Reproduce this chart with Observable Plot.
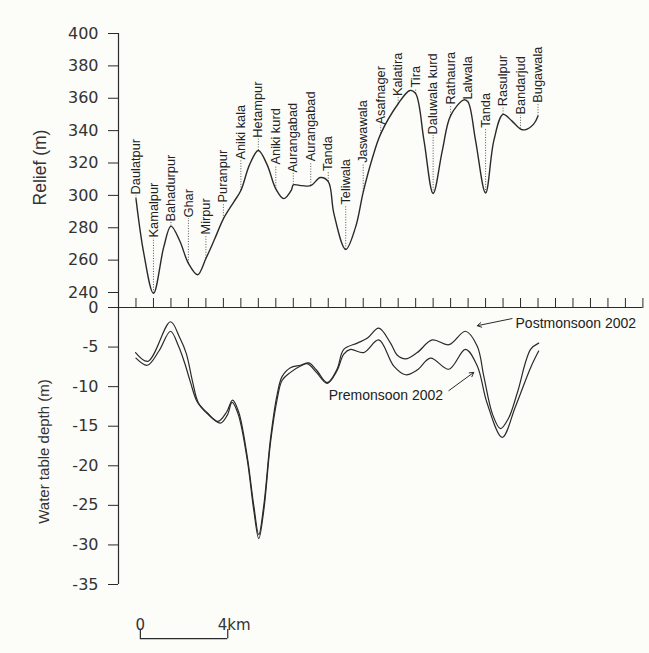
<!DOCTYPE html>
<html><head><meta charset="utf-8">
<script src="https://cdn.jsdelivr.net/npm/d3@7"></script>
<script src="https://cdn.jsdelivr.net/npm/@observablehq/plot@0.6"></script>
<style>
html,body{margin:0;padding:0;background:#fcfcf9;}
#chart{position:relative;width:649px;height:653px;overflow:hidden;}
#chart svg{position:absolute;left:0;}
</style></head><body><div id="chart"></div>
<script>
// ---- Relief profile (distance km, elevation m) ----
const reliefKm = [0.8,1.16,1.6,2.07,2.4,2.8,3.2,3.62,4.0,4.4,4.8,5.28,5.6,6.0,6.4,6.8,7.2,7.56,7.92,8.0,8.4,8.8,9.24,9.6,9.86,10.4,10.85,11.2,11.61,12.0,12.8,13.34,13.6,13.98,14.4,14.82,15.2,15.81,16.0,16.34,16.8,17.18,17.6,18.0,18.4,18.6,19.0,19.2];
const reliefM  = [298,264,239.5,268,281,272,258,251,261,273,285.5,296,303,319,327.7,319,304,298,303.5,306.5,306,306,311,308.5,288.6,266.6,280.4,302,322.6,338,356.6,364.8,362.8,334,301.2,327.7,349.3,359,357.6,334,301.4,334,350,346,341,340.5,344,349];

// ---- Villages along the profile ----
const villages  = ["Daulatpur","Kamalpur","Bahadurpur","Ghar","Mirpur","Puranpur","Aniki kala","Hetampur","Aniki kurd","Aurangabad","Aurangabad","Tanda","Teliwala","Jaswawala","Asafnager","Kalatira","Tira","Daluwala kurd","Rathaura","Lalwala","Tanda","Rasulpur","Bandarjud","Bugawala"];
const villageKm = [0.8,1.6,2.4,3.2,4.0,4.8,5.6,6.4,7.2,8.0,8.8,9.6,10.4,11.2,12.0,12.8,13.6,14.4,15.2,16.0,16.8,17.6,18.4,19.2];
const labelElev = [300,273.4,283.2,285.7,275.2,295,321.5,335,318.5,313.5,320.5,314.5,293.7,319.5,343.2,360.7,366,337,355.5,358.6,341.1,354.5,349.3,356.6];

// ---- Water table depth (m) ----
const postKm    = [0.78,1.35,2.38,2.8,3.1,3.4,3.65,4.06,4.55,4.95,5.22,5.5,5.89,6.19,6.42,6.65,6.96,7.26,7.49,7.87,8.33,8.71,9.06,9.55,10.0,10.31,10.93,11.38,11.91,12.45,12.75,13.14,13.67,14.36,15.12,15.88,16.42,16.72,17.12,17.48,17.85,18.25,18.86,19.23];
const postDepth = [-5.7,-6.8,-1.8,-3.8,-5.8,-9.5,-12.0,-13.3,-14.4,-13.2,-11.7,-13.2,-18.8,-25.0,-28.7,-25.0,-16.5,-11.0,-8.7,-7.6,-7.3,-7.0,-7.9,-9.5,-7.8,-5.3,-4.5,-3.9,-2.6,-4.5,-6.0,-6.5,-5.7,-4.1,-4.7,-3.0,-4.9,-8.7,-13.5,-15.3,-14.0,-10.8,-5.3,-4.5];
const preKm     = [0.8,1.32,1.85,2.38,2.75,3.05,3.3,3.6,4.06,4.67,4.98,5.2,5.48,5.89,6.19,6.42,6.65,6.96,7.26,7.49,7.87,8.33,8.64,9.06,9.55,10.0,10.31,10.62,11.22,11.91,12.6,13.14,13.67,14.28,15.12,15.88,16.42,16.87,17.56,18.17,18.86,19.23];
const preDepth  = [-6.4,-7.3,-5.5,-3.0,-4.9,-7.2,-9.5,-11.9,-13.4,-14.6,-13.6,-12.0,-13.5,-19.2,-25.6,-29.2,-25.6,-17.0,-11.6,-9.2,-8.2,-7.4,-7.1,-8.2,-9.6,-8.0,-5.9,-5.3,-5.7,-4.1,-7.4,-8.5,-7.9,-6.4,-7.8,-5.3,-7.4,-12.1,-16.4,-12.5,-7.6,-5.5];

// ---- Ticks ----
const reliefTicks = [240,260,280,300,320,340,360,380,400];
const depthTicks  = [0,-5,-10,-15,-20,-25,-30,-35];
const stationTicks = d3.range(1,31).map(i => +(i*0.8).toFixed(1));

// ---- Annotations ----
const annoText  = ["Postmonsoon 2002","Premonsoon 2002"];
const annoKm    = [18.17, 9.62];
const annoDepth = [-2.0, -11.1];
const arrowFrom = [[18.01,-1.4],[15.12,-10.5]];
const arrowTo   = [[16.42,-2.3],[16.26,-8.2]];

const relief = reliefKm.map((x,i)=>({x, y: reliefM[i]}));
const labels = villages.map((name,i)=>({name, x: villageKm[i], top: labelElev[i], foot: reliefM[reliefKm.indexOf(villageKm[i])]}));
const post = postKm.map((x,i)=>({x, y: postDepth[i]}));
const pre = preKm.map((x,i)=>({x, y: preDepth[i]}));
const annos = annoText.map((t,i)=>({t, x: annoKm[i], y: annoDepth[i]}));
const arrows = arrowFrom.map((f,i)=>({x1:f[0],y1:f[1],x2:arrowTo[i][0],y2:arrowTo[i][1]}));

const ink = "#2a2a2a";
const W = 649, ML = 118, MR = 6.6;
const baseStyle = {fontFamily:"DejaVu Sans", fontSize:"16px", background:"transparent", color: ink, overflow:"visible"};

// Top panel: 400 at y=33, 240 at y=292, frame extends to the zero line (y=307)
const pxPerM = 259/160;
const topPlot = Plot.plot({
  width: W, height: 307, marginLeft: ML, marginRight: MR, marginTop: 33, marginBottom: 0,
  x: {domain:[0,24], axis:null},
  y: {domain:[240 - 15/pxPerM, 400], axis:null},
  style: baseStyle,
  marks: [
    Plot.ruleX([0], {stroke: ink, strokeWidth: 1.2}),
    Plot.axisY(reliefTicks, {anchor:"left", tickSize:10, tickPadding:10, fontSize:16, fontFamily:"DejaVu Sans", label:null, fill: "#333"}),
    Plot.ruleX(labels, {x:"x", y1:"foot", y2:"top", stroke:"#444", strokeWidth:0.9, strokeDasharray:"1,1.6"}),
    Plot.line(relief, {x:"x", y:"y", curve:"catmull-rom", stroke: ink, strokeWidth:1.4}),
    Plot.text(labels, {x:"x", y:"top", text:"name", rotate:-90, textAnchor:"start", lineAnchor:"middle", dy:-1, fontFamily:"Liberation Sans", fontSize:12.8, fill:"#222"}),
    Plot.text(["Relief (m)"], {frameAnchor:"left", text:d=>d, rotate:-90, dx:-78, dy:-3, textAnchor:"middle", lineAnchor:"middle", fontFamily:"Liberation Sans", fontSize:17.5, fill:"#333"})
  ]
});
topPlot.style.top = "0px";

// Bottom panel: 0 at y=307, -35 at y=584
const botPlot = Plot.plot({
  width: W, height: 363, marginLeft: ML, marginRight: MR, marginTop: 17, marginBottom: 69,
  x: {domain:[0,24], axis:null},
  y: {domain:[-35, 0], axis:null},
  style: baseStyle,
  marks: [
    Plot.ruleX([0], {stroke: ink, strokeWidth: 1.2}),
    Plot.ruleY([0], {stroke: ink, strokeWidth: 1.2}),
    Plot.axisY(depthTicks, {anchor:"left", tickSize:10, tickPadding:10, tickFormat:d=>String(d), fontSize:16, fontFamily:"DejaVu Sans", label:null, fill:"#333"}),
    Plot.axisX(stationTicks, {anchor:"top", tickSize:10, tickFormat:()=>"", label:null}),
    Plot.line(post, {x:"x", y:"y", curve:"catmull-rom", stroke: ink, strokeWidth:1.2}),
    Plot.line(pre, {x:"x", y:"y", curve:"catmull-rom", stroke: ink, strokeWidth:1.2}),
    Plot.arrow(arrows, {x1:"x1", y1:"y1", x2:"x2", y2:"y2", stroke: ink, strokeWidth:1, headLength:7}),
    Plot.text(annos, {x:"x", y:"y", text:"t", textAnchor:"start", lineAnchor:"middle", fontFamily:"Liberation Sans", fontSize:14, fill:"#222"}),
    Plot.text(["Water table depth (m)"], {frameAnchor:"left", text:d=>d, rotate:-90, dx:-74, dy:5.5, textAnchor:"middle", lineAnchor:"middle", fontFamily:"Liberation Sans", fontSize:15, fill:"#333"}),
    // scale bar: 4 km
    Plot.ruleY([-41.85], {x1:1, x2:5, stroke: ink, strokeWidth:1.2}),
    Plot.ruleX([1,5], {y1:-41.85, y2:-40.7, stroke: ink, strokeWidth:1.2}),
    Plot.text(["0"], {x:1, y:-40.75, text:d=>d, textAnchor:"middle", lineAnchor:"bottom", fontFamily:"DejaVu Sans", fontSize:15, fill:"#333"}),
    Plot.text(["4km"], {x:5, y:-40.75, text:d=>d, textAnchor:"start", dx:-10, lineAnchor:"bottom", fontFamily:"DejaVu Sans", fontSize:15, fill:"#333"})
  ]
});
botPlot.style.top = "290px";

const chart = document.getElementById("chart");
chart.appendChild(topPlot);
chart.appendChild(botPlot);
</script></body></html>
